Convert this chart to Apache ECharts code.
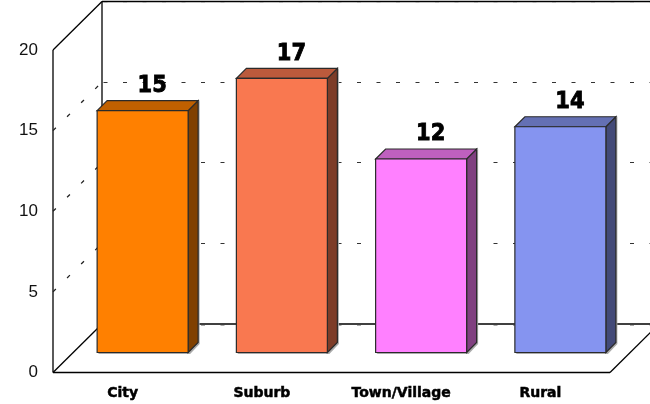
<!DOCTYPE html>
<html><head><meta charset="utf-8">
<style>html,body{margin:0;padding:0;background:#fff}#c{width:650px;height:404px}</style>
<script src="https://cdn.jsdelivr.net/npm/echarts@6/dist/echarts.min.js"></script>
</head><body><div id="c"></div>
<script>
const categories = ['City', 'Suburb', 'Town/Village', 'Rural'];
const values = [15, 17, 12, 14];
const frontColors = ['#FF8000', '#F97850', '#FF80FF', '#8594F0'];
const topColors = ['#C06000', '#BB5A3C', '#BF60BF', '#6470B4'];
const sideColors = ['#804000', '#7D3C28', '#804080', '#434A78'];
const yTicks = [0, 5, 10, 15, 20];

// Pseudo-3D projection constants (pixels)
const DX = 49, DY = -48.5;        // depth of the plot box
const BAR_SHIFT_X = 20, BAR_SHIFT_Y = -20; // bars sit mid-depth on the floor
const BAR_W = 91, BAR_DX = 10, BAR_DY = -10;
const LINE = '#000';

const chart = echarts.init(document.getElementById('c'), null, {renderer: 'canvas'});

function line(x1, y1, x2, y2, style) {
  return {type: 'line', shape: {x1, y1, x2, y2}, style: Object.assign({stroke: LINE, lineWidth: 1.3}, style || {})};
}

function renderFrame(params, api) {
  const cs = params.coordSys;
  const left = cs.x, right = cs.x + cs.width;
  const y0 = api.coord([0, 0])[1], y20 = api.coord([0, 20])[1];
  const bx = left + DX, bx2 = right + DX;
  const children = [];
  // solid frame
  children.push(line(left, y0, right, y0));
  children.push(line(left, y0, left, y20));
  children.push(line(left, y20, bx, y20 + DY));
  children.push(line(left, y0, bx, y0 + DY));
  children.push(line(bx, y20 + DY, bx, y0 + DY));
  children.push(line(bx, y20 + DY, 650, y20 + DY));
  children.push(line(bx, y0 + DY, 650, y0 + DY));
  children.push(line(right, y0, bx2, y0 + DY));
  // dashed gridlines: side wall + back wall
  yTicks.forEach(t => {
    const y = api.coord([0, t])[1];
    const edge = t === 0 || t === 20;
    if (!edge) children.push(line(left, y, bx, y + DY, {stroke: '#222', lineWidth: 1.3, lineDash: [4, 15.8]}));
    const yy = Math.floor(y + DY) + 0.5 + (edge ? 1 : 0);
    children.push(line(bx + 1.5, yy, 650, yy, {stroke: edge ? '#aaa' : '#333', lineWidth: 1, lineDash: [4, 15.5]}));
  });
  return {type: 'group', children};
}

function renderBar(params, api) {
  const idx = api.value(0), val = api.value(1);
  const c = api.coord([idx, val]), base = api.coord([idx, 0]);
  const xl = c[0] + BAR_SHIFT_X - BAR_W / 2, xr = xl + BAR_W;
  const yt = c[1] + BAR_SHIFT_Y, yb = base[1] + BAR_SHIFT_Y;
  const st = {stroke: '#2a2a2a', lineWidth: 1.2, lineJoin: 'miter'};
  return {type: 'group', children: [
    {type: 'polygon', shape: {points: [[xl + 2, yb + 1.5], [xr + 2, yb + 1.5], [xr + BAR_DX + 1.5, yb + BAR_DY + 1.5], [xr + BAR_DX + 1.5, yt + BAR_DY], [xr, yt], [xl, yb]]}, style: {fill: '#aaa', stroke: null}},
    {type: 'polygon', shape: {points: [[xr, yt], [xr + BAR_DX, yt + BAR_DY], [xr + BAR_DX, yb + BAR_DY], [xr, yb]]}, style: Object.assign({fill: sideColors[idx]}, st)},
    {type: 'polygon', shape: {points: [[xl, yt], [xl + BAR_DX, yt + BAR_DY], [xr + BAR_DX, yt + BAR_DY], [xr, yt]]}, style: Object.assign({fill: topColors[idx]}, st)},
    {type: 'rect', shape: {x: xl, y: yt, width: BAR_W, height: yb - yt}, style: Object.assign({fill: frontColors[idx]}, st)},
    {type: 'text', x: xl + 55, y: yt - 25, scaleY: 1.13,
     style: {text: String(values[idx]), x: 0, y: 0, align: 'center', verticalAlign: 'middle', fill: '#000', stroke: '#000', lineWidth: 0.8, font: 'bold 21px "DejaVu Sans"'}}
  ]};
}

chart.setOption({
  animation: false,
  backgroundColor: '#fff',
  grid: {left: 53, top: 50, width: 557, height: 322.5, containLabel: false},
  xAxis: {
    type: 'category', data: categories, boundaryGap: true,
    axisLine: {show: false}, axisTick: {show: false}, splitLine: {show: false},
    axisLabel: {color: '#000', fontFamily: 'DejaVu Sans', fontWeight: 'bold', fontSize: 14, margin: 14, interval: 0, textBorderColor: '#000', textBorderWidth: 0.5}
  },
  yAxis: {
    type: 'value', min: 0, max: 20, interval: 5,
    axisLine: {show: false}, axisTick: {show: false}, splitLine: {show: false},
    axisLabel: {margin: 15, formatter: '{a|{value}}', rich: {a: {color: '#111', fontFamily: 'Liberation Sans', fontSize: 17, lineHeight: 24, height: 24, verticalAlign: 'bottom', padding: [5, 0, 0, 0]}}}
  },
  series: [
    {type: 'custom', clip: false, silent: true, z: 1, renderItem: renderFrame, data: [[0, 0]], encode: {x: 0, y: 1}},
    {type: 'custom', clip: false, silent: true, z: 2, renderItem: renderBar, data: values.map((v, i) => [i, v]), encode: {x: 0, y: 1}}
  ]
});
</script></body></html>
